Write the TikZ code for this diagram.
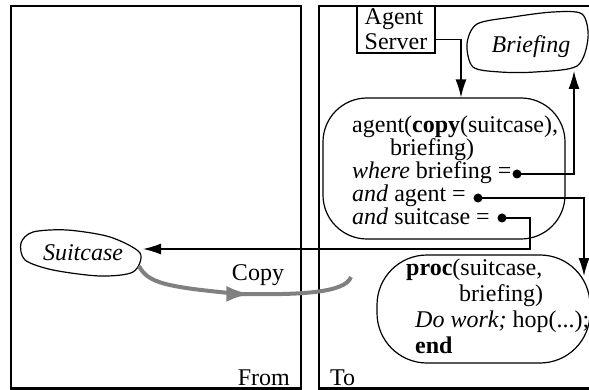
\documentclass[tikz,border=0pt]{standalone}
\usepackage{fontspec}
\setmainfont{Liberation Serif}
\usepackage{tikz}
\usetikzlibrary{arrows.meta,decorations.markings}
\newcommand{\bodyfont}{\fontsize{24}{23}\selectfont}

\begin{document}
\begin{tikzpicture}[x=1pt, y=-1pt,
    every node/.style={inner sep=0pt, font=\bodyfont},
    frame/.style={line width=2.8pt},
    roundbox/.style={draw, line width=1.2pt, rounded corners=44pt},
    blob/.style={line width=1.2pt},
    dot/.style={circle, fill, inner sep=0pt, minimum size=9pt},
    conn/.style={line width=1.3pt, -{Latex[length=18pt,width=11pt]}},
    copyline/.style={line width=4pt, draw=gray,
      postaction={decorate, decoration={markings,
        mark=at position 0.53 with {\arrow[gray]{Latex[length=24pt,width=16pt]}}}}}]
    \useasboundingbox (0, 0) rectangle (589, 390);

    \draw[frame] (11, 6) rectangle (301, 388.5);
    \draw[frame] (319, 6) rectangle (600, 388.5);

    \node (server) at (396, 29.5)
      [draw, line width=1.2pt, minimum width=78pt, minimum height=47pt, align=left,
       font=\fontsize{24}{25}\selectfont]
      {Agent\\Server};

    \node (briefing) at (531, 53) [anchor=base, font=\bodyfont\itshape] {Briefing};
    \draw[blob] plot[smooth cycle] coordinates
      {(467,44) (477,24) (513,17) (553,12) (582,14) (588,38) (577,66) (535,72) (500,72) (473,67)};

    \node (agent) at (444, 168.5) [roundbox, minimum width=242pt, minimum height=141pt] {};
    \node (agenttext) at (352, 225) [anchor=base west, align=left]
      {agent(\textbf{copy}(suitcase),\\
       \hspace*{38pt}briefing)\\
       \textit{where} briefing =\\
       \textit{and} agent =\\
       \textit{and} suitcase =};
    \node (dotbriefing) at (517, 174) [dot] {};
    \node (dotagent) at (478, 198) [dot] {};
    \node (dotsuitcase) at (502, 218) [dot] {};

    \node (proc) at (483.5, 309) [roundbox, rounded corners=50pt, minimum width=213pt, minimum height=108pt] {};
    \node (proctext) at (406, 353) [anchor=base west, align=left, font=\fontsize{24}{25.7}\selectfont]
      {\textbf{proc}(suitcase,\\
       \hspace*{53pt}briefing)\\
       \hspace*{9pt}\textit{Do work;} hop(...);\\
       \hspace*{9pt}\textbf{end}};

    \node (suitcase) at (83, 260) [anchor=base, font=\bodyfont\itshape] {Suitcase};
    \draw[blob] plot[smooth cycle] coordinates
      {(21,243) (33,232) (67,230) (110,237) (140,253) (133,272) (100,276) (53,270) (25,260)};

    \coordinate (briefingin) at (574, 71);
    \coordinate (procin) at (584, 276);
    \coordinate (suitcasein) at (143, 249);
    \coordinate (copyout) at (139, 266);
    \coordinate (copyin) at (351, 277);

    \draw[conn] ([yshift=-10pt]server.east) -| ([xshift=17pt]agent.north);
    \draw[conn] (dotbriefing.center) -| (briefingin);
    \draw[conn] (dotagent.center) -| (procin);
    \draw[conn] (dotsuitcase.center) -- ++(28, 0) |- (suitcasein);

    \draw[copyline] (copyout) .. controls (148, 283) and (165, 287) .. (240, 294)
      .. controls (300, 295) and (345, 293) .. (copyin);

    \node (copylabel) at (258, 280) [anchor=base] {Copy};
    \node (fromlabel) at (290, 385) [anchor=base east] {From};
    \node (tolabel) at (330, 385) [anchor=base west] {To};
\end{tikzpicture}
\end{document}
